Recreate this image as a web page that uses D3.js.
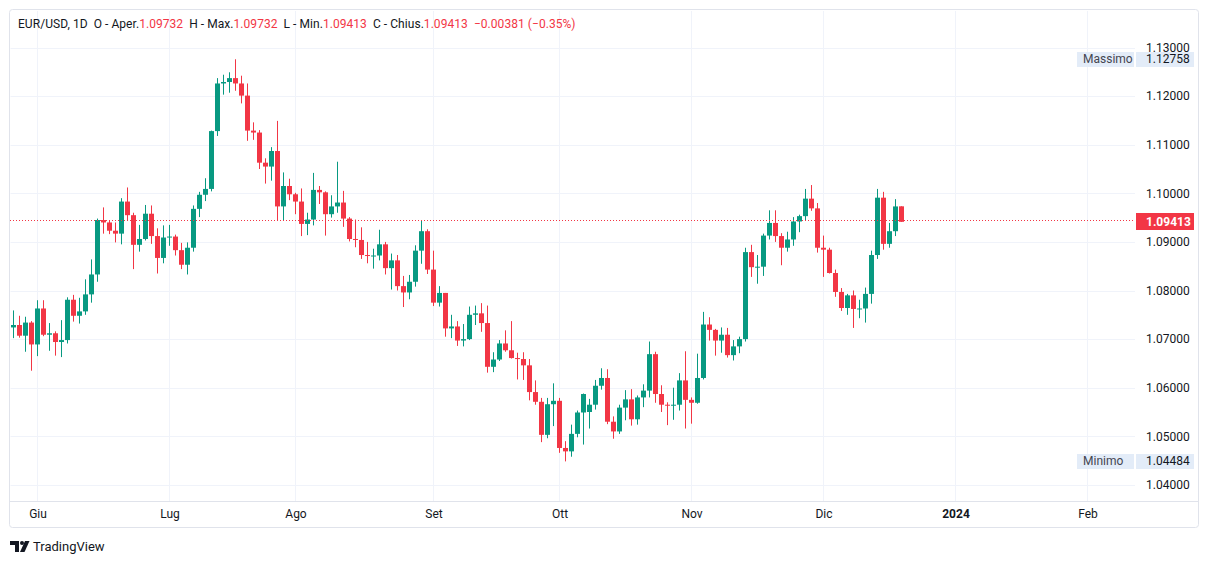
<!DOCTYPE html>
<html><head><meta charset="utf-8">
<script src="https://cdn.jsdelivr.net/npm/d3@7"></script>
<style>
body{margin:0;background:#fff;}
svg{display:block;font-family:Roboto,"Liberation Sans",sans-serif;}
</style>
</head><body>
<svg id="c" width="1209" height="564"></svg>
<script>
// ---------- DATA ----------
const startDate = "2023-05-26";
const endDate = "2023-12-20";
const open = [
1.0724,1.0729,1.0707,1.0734,
1.0689,1.0763,1.0709,1.0712,1.0694,1.0698,1.0781,1.0748,1.0757,1.0792,1.0833,1.0945,1.0940,1.0923,1.0917,1.0983,1.0955,1.0894,1.0906,1.0958,1.0912,1.0867,
1.0909,1.0911,1.0883,1.0853,1.0888,1.0968,1.0997,1.1009,1.1128,1.1226,1.1229,1.1237,1.1226,1.1201,1.1129,1.1125,1.1063,1.1055,1.1087,1.0973,1.1015,
1.0998,1.0983,1.0937,1.0946,1.1007,1.1002,1.0957,1.0973,1.0981,1.0948,1.0906,1.0904,1.0873,1.0871,1.0872,1.0895,1.0846,1.0862,1.0809,1.0796,1.0818,1.0882,1.0922,
1.0843,1.0775,1.0795,1.0722,1.0726,1.0697,1.0700,1.0750,1.0753,1.0733,1.0643,1.0658,1.0691,1.0677,1.0661,1.0659,1.0646,1.0591,1.0571,1.0503,1.0566,
1.0573,1.0476,1.0469,1.0505,1.0549,1.0550,1.0565,1.0604,1.0620,1.0530,1.0510,1.0559,1.0576,1.0535,1.0580,1.0594,1.0669,1.0587,1.0565,1.0564,1.0565,1.0615,
1.0575,1.0569,1.0620,1.0730,1.0719,1.0697,1.0709,1.0667,1.0685,1.0700,1.0879,1.0848,1.0849,1.0913,1.0939,1.0912,1.0888,1.0905,1.0942,1.0953,1.0989,1.0969,
1.0888,1.0884,1.0836,1.0797,1.0764,1.0790,1.0762,1.0763,1.0793,1.0873,1.0991,1.0896,1.0922,1.09732];
const high = [
1.0759,1.0748,1.0746,1.0737,
1.0780,1.0780,1.0733,1.0716,1.0739,1.0786,1.0791,1.0785,1.0823,1.0864,1.0948,1.0971,1.0944,1.0940,1.0990,1.1012,1.0960,1.0935,1.0976,1.0975,1.0928,1.0934,
1.0935,1.0915,1.0898,1.0899,1.0975,1.1003,1.1031,1.1129,1.1237,1.1244,1.1249,1.12758,1.1242,1.1226,1.1146,1.1130,1.1072,1.1095,1.1149,1.1043,1.1030,
1.1001,1.1010,1.0960,1.1042,1.1015,1.1004,1.0996,1.1065,1.1005,1.0951,1.0946,1.0930,1.0900,1.0886,1.0925,1.0900,1.0876,1.0873,1.0830,1.0832,1.0893,1.0945,1.0926,
1.0882,1.0809,1.0795,1.0750,1.0737,1.0731,1.0767,1.0769,1.0774,1.0769,1.0673,1.0698,1.0718,1.0737,1.0672,1.0673,1.0659,1.0615,1.0579,1.0579,1.0609,
1.0579,1.0490,1.0524,1.0553,1.0588,1.0577,1.0616,1.0640,1.0638,1.0541,1.0565,1.0595,1.0597,1.0584,1.0607,1.0695,1.0674,1.0605,1.0570,1.0600,1.0630,1.0675,
1.0580,1.0670,1.0756,1.0745,1.0721,1.0724,1.0723,1.0698,1.0705,1.0888,1.0894,1.0873,1.0917,1.0965,1.0965,1.0918,1.0921,1.0951,1.0956,1.1009,1.1017,1.0980,
1.0913,1.0888,1.0843,1.0805,1.0793,1.0800,1.0781,1.0806,1.0882,1.1009,1.1003,1.0939,1.0988,1.09732];
const low = [
1.0702,1.0703,1.0674,1.0635,
1.0665,1.0706,1.0676,1.0666,1.0663,1.0691,1.0736,1.0732,1.0750,1.0775,1.0818,1.0917,1.0916,1.0899,1.0895,1.0945,1.0844,1.0880,1.0903,1.0896,1.0835,1.0856,
1.0892,1.0872,1.0844,1.0833,1.0880,1.0951,1.0984,1.1004,1.1118,1.1203,1.1207,1.1211,1.1185,1.1108,1.1110,1.1050,1.1020,1.1026,1.0943,1.0945,1.0986,
1.0957,1.0912,1.0914,1.0934,1.0978,1.0913,1.0950,1.0960,1.0931,1.0901,1.0889,1.0865,1.0856,1.0845,1.0862,1.0833,1.0802,1.0800,1.0766,1.0782,1.0808,1.0855,1.0834,
1.0768,1.0767,1.0705,1.0702,1.0686,1.0685,1.0698,1.0729,1.0715,1.0631,1.0632,1.0655,1.0674,1.0660,1.0617,1.0616,1.0574,1.0565,1.0488,1.0496,1.0521,
1.0466,1.04484,1.0458,1.0498,1.0483,1.0516,1.0555,1.0596,1.0525,1.0495,1.0505,1.0533,1.0522,1.0524,1.0560,1.0580,1.0569,1.0550,1.0523,1.0534,1.0553,1.0516,
1.0526,1.0567,1.0617,1.0697,1.0666,1.0672,1.0662,1.0656,1.0671,1.0695,1.0828,1.0814,1.0830,1.0905,1.0900,1.0852,1.0880,1.0892,1.0920,1.0944,1.0964,1.0878,
1.0828,1.0835,1.0787,1.0758,1.0750,1.0723,1.0743,1.0734,1.0773,1.0865,1.0884,1.0888,1.0912,1.09413];
const close = [
1.0729,1.0707,1.0734,1.0689,
1.0763,1.0709,1.0712,1.0694,1.0698,1.0781,1.0748,1.0757,1.0792,1.0833,1.0945,1.0940,1.0923,1.0917,1.0983,1.0955,1.0894,1.0906,1.0958,1.0912,1.0867,1.0909,
1.0911,1.0883,1.0853,1.0888,1.0968,1.0997,1.1009,1.1128,1.1226,1.1229,1.1237,1.1226,1.1201,1.1129,1.1125,1.1063,1.1055,1.1087,1.0973,1.1015,1.0998,
1.0983,1.0937,1.0946,1.1007,1.1002,1.0957,1.0973,1.0981,1.0948,1.0906,1.0904,1.0873,1.0871,1.0872,1.0895,1.0846,1.0862,1.0809,1.0796,1.0818,1.0882,1.0922,1.0843,
1.0775,1.0795,1.0722,1.0726,1.0697,1.0700,1.0750,1.0753,1.0733,1.0643,1.0658,1.0691,1.0677,1.0661,1.0659,1.0646,1.0591,1.0571,1.0503,1.0566,1.0573,
1.0476,1.0469,1.0505,1.0549,1.0587,1.0565,1.0604,1.0620,1.0530,1.0510,1.0559,1.0576,1.0535,1.0580,1.0594,1.0669,1.0587,1.0565,1.0564,1.0565,1.0615,1.0575,
1.0569,1.0620,1.0730,1.0719,1.0697,1.0709,1.0667,1.0685,1.0700,1.0879,1.0848,1.0849,1.0913,1.0939,1.0912,1.0888,1.0905,1.0942,1.0953,1.0989,1.0969,1.0888,
1.0884,1.0836,1.0797,1.0764,1.0790,1.0762,1.0763,1.0793,1.0873,1.0991,1.0896,1.0922,1.0973,1.09413];

const monthTickDates = ["2023-06-01","2023-07-03","2023-08-01","2023-09-01","2023-10-02","2023-11-01","2023-12-01","2024-01-02","2024-02-01"];
const monthTickLabels = ["Giu","Lug","Ago","Set","Ott","Nov","Dic","2024","Feb"];
const priceTicks = [1.04,1.05,1.06,1.07,1.08,1.09,1.10,1.11,1.12,1.13];
const symbolText = "EUR/USD, 1D";
const headerParts = [["O - Aper.","1.09732"],["H - Max.","1.09732"],["L - Min.","1.09413"],["C - Chius.","1.09413"]];
const changeText = "\u22120.00381 (\u22120.35%)";
const maxLabel = ["Massimo", 1.12758];
const minLabel = ["Minimo", 1.04484];
const lastPrice = 1.09413;

// ---------- HELPERS ----------
function parse(s){const p=s.split("-").map(Number);return new Date(Date.UTC(p[0],p[1]-1,p[2]));}
function weekdayIndex(s){ // trading-bar index counted from startDate
  const a=parse(startDate), b=parse(s); let n=0;
  for(let d=new Date(a); d<b; d.setUTCDate(d.getUTCDate()+1)){const w=d.getUTCDay(); if(w!==0&&w!==6) n++;}
  return n;
}
const N = close.length;

// ---------- LAYOUT ----------
const plotL=10, plotR=1135, plotT=10, plotB=501;
const svg=d3.select("#c");
const x=d3.scaleLinear().domain([0,1]).range([13.5,19.5]);
const y=d3.scaleLinear().domain([1.10,1.13]).range([193.3,47.5]);
const GREEN="#089981", RED="#f23645", GRID="#f0f3fa", TXT="#131722";
const FONT='Roboto,"Liberation Sans",sans-serif';

// frame
svg.append("rect").attr("x",9.5).attr("y",9.5).attr("width",1189).attr("height",518).attr("rx",3)
  .attr("fill","#fff").attr("stroke","#e0e3eb");

// grid
const tickIdx = monthTickDates.map(weekdayIndex);
svg.append("g").selectAll("line").data(priceTicks).join("line")
  .attr("x1",plotL+0.5).attr("x2",plotR).attr("y1",d=>Math.round(y(d))+0.5).attr("y2",d=>Math.round(y(d))+0.5)
  .attr("stroke",GRID).attr("stroke-width",1);
svg.append("g").selectAll("line").data(tickIdx).join("line")
  .attr("x1",d=>Math.floor(x(d))+0.5).attr("x2",d=>Math.floor(x(d))+0.5).attr("y1",plotT+1).attr("y2",plotB)
  .attr("stroke",GRID).attr("stroke-width",1);

// time axis separator
svg.append("line").attr("x1",10).attr("x2",1198).attr("y1",501.5).attr("y2",501.5).attr("stroke","#e0e3eb");

// candles
const idx=d3.range(N);
const cg=svg.append("g");
cg.selectAll("rect.w").data(idx).join("rect").attr("class","w")
  .attr("x",i=>Math.floor(x(i))).attr("width",1)
  .attr("y",i=>y(high[i])).attr("height",i=>Math.max(1,y(low[i])-y(high[i])))
  .attr("fill",i=>close[i]>=open[i]?GREEN:RED);
cg.selectAll("rect.b").data(idx).join("rect").attr("class","b")
  .attr("x",i=>Math.floor(x(i))-2).attr("width",5)
  .attr("y",i=>y(Math.max(open[i],close[i])))
  .attr("height",i=>Math.max(1,Math.abs(y(open[i])-y(close[i]))))
  .attr("fill",i=>close[i]>=open[i]?GREEN:RED);

// last price dotted line
svg.append("line").attr("x1",plotL).attr("x2",plotR)
  .attr("y1",Math.floor(y(lastPrice))-0.5).attr("y2",Math.floor(y(lastPrice))-0.5)
  .attr("stroke",RED).attr("stroke-width",1).attr("stroke-dasharray","1,2");

// price axis
const ya=svg.append("g").attr("transform","translate(1146,0)")
  .call(d3.axisRight(y).tickValues(priceTicks).tickFormat(d3.format(".5f")).tickSize(0).tickPadding(0));
ya.select(".domain").remove();
ya.selectAll("text").attr("font-size",12).attr("fill",TXT).attr("font-family",FONT).attr("text-anchor","start");

// time axis
const xa=svg.append("g").attr("transform","translate(0,501)")
  .call(d3.axisBottom(x).tickValues(tickIdx).tickFormat((d,i)=>monthTickLabels[i]).tickSize(0).tickPadding(8));
xa.select(".domain").remove();
xa.selectAll("text").attr("font-size",12).attr("fill",TXT).attr("font-family",FONT)
  .attr("font-weight",(d,i)=>monthTickLabels[i]==="2024"?"bold":"normal");

// max / min labels
function extLabel(lbl){
  const yy=Math.round(y(lbl[1]));
  const g=svg.append("g");
  g.append("rect").attr("x",1077).attr("y",yy-7).attr("width",57).attr("height",15).attr("fill","#e3ecf8");
  g.append("rect").attr("x",1136).attr("y",yy-7).attr("width",58).attr("height",15).attr("fill","#e3ecf8");
  g.append("text").attr("x",1083).attr("y",yy+4).attr("font-size",12).attr("fill","#434651").text(lbl[0]);
  g.append("text").attr("x",1146).attr("y",yy+4).attr("font-size",12).attr("fill",TXT).text(d3.format(".5f")(lbl[1]));
}
extLabel(maxLabel); extLabel(minLabel);

// current price label
{
  const yy=Math.round(y(lastPrice));
  svg.append("rect").attr("x",1136).attr("y",yy-9).attr("width",58).attr("height",17).attr("fill",RED);
  svg.append("text").attr("x",1146).attr("y",yy+4).attr("font-size",12).attr("font-weight","bold").attr("fill","#fff").text(d3.format(".5f")(lastPrice));
}

// header
{
  const t=svg.append("text").attr("x",18).attr("y",28).attr("font-size",12).attr("letter-spacing",0.05).style("white-space","pre");
  t.append("tspan").attr("fill",TXT).text(symbolText+"  ");
  headerParts.forEach(p=>{
    t.append("tspan").attr("fill",TXT).text(p[0]);
    t.append("tspan").attr("fill",RED).text(p[1]+"  ");
  });
  t.append("tspan").attr("fill",RED).text(changeText);
}

// TradingView logo
{
  const g=svg.append("g").attr("fill",TXT);
  g.append("path").attr("d","M10 541 h9 v11 h-4 v-7 h-5 z");
  g.append("circle").attr("cx",22).attr("cy",543).attr("r",2);
  g.append("path").attr("d","M25 541 h4.5 l-5 11 h-4.5 z");
  svg.append("text").attr("x",33).attr("y",551).attr("font-size",13).attr("fill",TXT).text("TradingView");
}
</script>
</body></html>
